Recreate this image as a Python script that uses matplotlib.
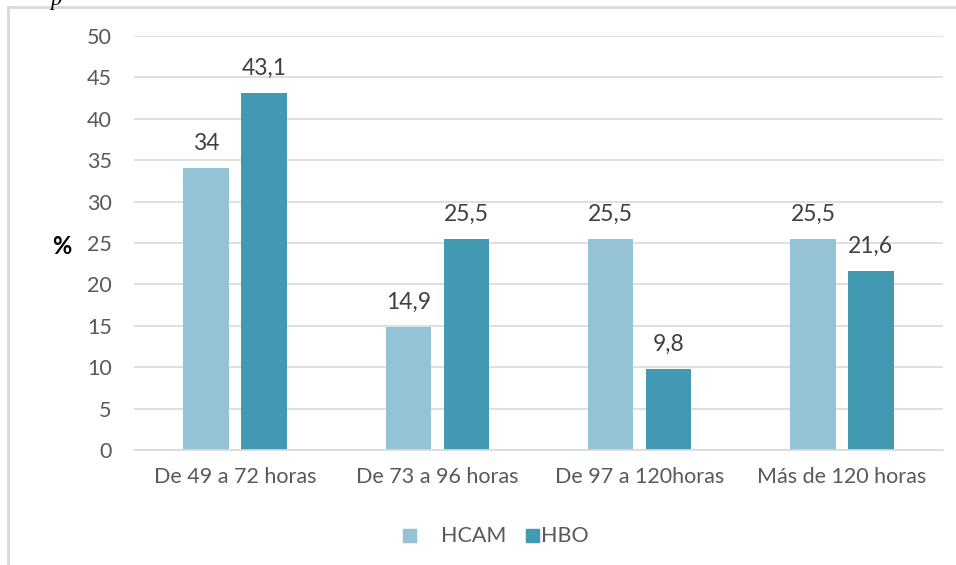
import matplotlib.pyplot as plt
import numpy as np
from matplotlib.patches import Rectangle
from matplotlib.lines import Line2D

categorias = ["De 49 a 72 horas", "De 73 a 96 horas", "De 97 a 120horas", "Más de 120 horas"]
hcam = [34, 14.9, 25.5, 25.5]
hbo = [43.1, 25.5, 9.8, 21.6]
etiquetas_hcam = ["34", "14,9", "25,5", "25,5"]
etiquetas_hbo = ["43,1", "25,5", "9,8", "21,6"]

plt.rcParams['font.family'] = ['Lato', 'DejaVu Sans']

fig = plt.figure(figsize=(9.56, 5.65), dpi=100)
W, H = 956, 565
ax = fig.add_axes([134 / W, 1 - 450 / H, (943 - 134) / W, (450 - 36) / H])

x = np.arange(len(categorias))
ancho = 0.225
sep = 0.143
b1 = ax.bar(x - sep, hcam, ancho, color="#93C3D5", label="HCAM")
b2 = ax.bar(x + sep, hbo, ancho, color="#4299B1", label="HBO")

for barras, textos in ((b1, etiquetas_hcam), (b2, etiquetas_hbo)):
    for b, t in zip(barras, textos):
        ax.text(b.get_x() + b.get_width() / 2, b.get_height() + 1.7, t,
                ha="center", va="bottom", fontsize=16.5, color="#404040")

ax.set_xlim(-0.5, len(categorias) - 0.5)
ax.set_ylim(0, 50)
ax.set_yticks(range(0, 51, 5))
ax.set_xticks(x)
ax.set_xticklabels(categorias)
ax.yaxis.grid(True, color="#D9D9D9", linewidth=1.2)
ax.set_axisbelow(True)
for s in ("top", "right", "left"):
    ax.spines[s].set_visible(False)
ax.spines["bottom"].set_color("#D9D9D9")
ax.spines["bottom"].set_linewidth(1.2)
ax.tick_params(axis="both", length=0, labelsize=15.5, labelcolor="#595959")
ax.tick_params(axis="y", pad=16)
ax.tick_params(axis="x", pad=12)

fig.text(62 / W, 1 - 247 / H, "%", fontsize=17, fontweight="bold", color="black",
         ha="center", va="center")

# leyenda hecha a mano para copiar el espaciado
fig.patches.append(Rectangle((403 / W, 1 - 542 / H), 13 / W, 13 / H, transform=fig.transFigure,
                             color="#93C3D5"))
fig.text(441 / W, 1 - 536 / H, "HCAM", fontsize=15.5, color="#595959", va="center")
fig.patches.append(Rectangle((526 / W, 1 - 542 / H), 13 / W, 13 / H, transform=fig.transFigure,
                             color="#4299B1"))
fig.text(541 / W, 1 - 536 / H, "HBO", fontsize=15.5, color="#595959", va="center")

# marco del grafico
fig.add_artist(Line2D([8 / W, 8 / W], [0, 1 - 7 / H], transform=fig.transFigure,
                      color="#D9D9D9", linewidth=2))
fig.add_artist(Line2D([8 / W, 1], [1 - 7 / H, 1 - 7 / H], transform=fig.transFigure,
                      color="#D9D9D9", linewidth=2))

# texto cortado arriba a la izquierda
fig.text(50 / W, 1.0, "p", fontsize=16, style="italic", family="Liberation Serif",
         ha="left", va="center")

fig.savefig("out.png", dpi=100)
